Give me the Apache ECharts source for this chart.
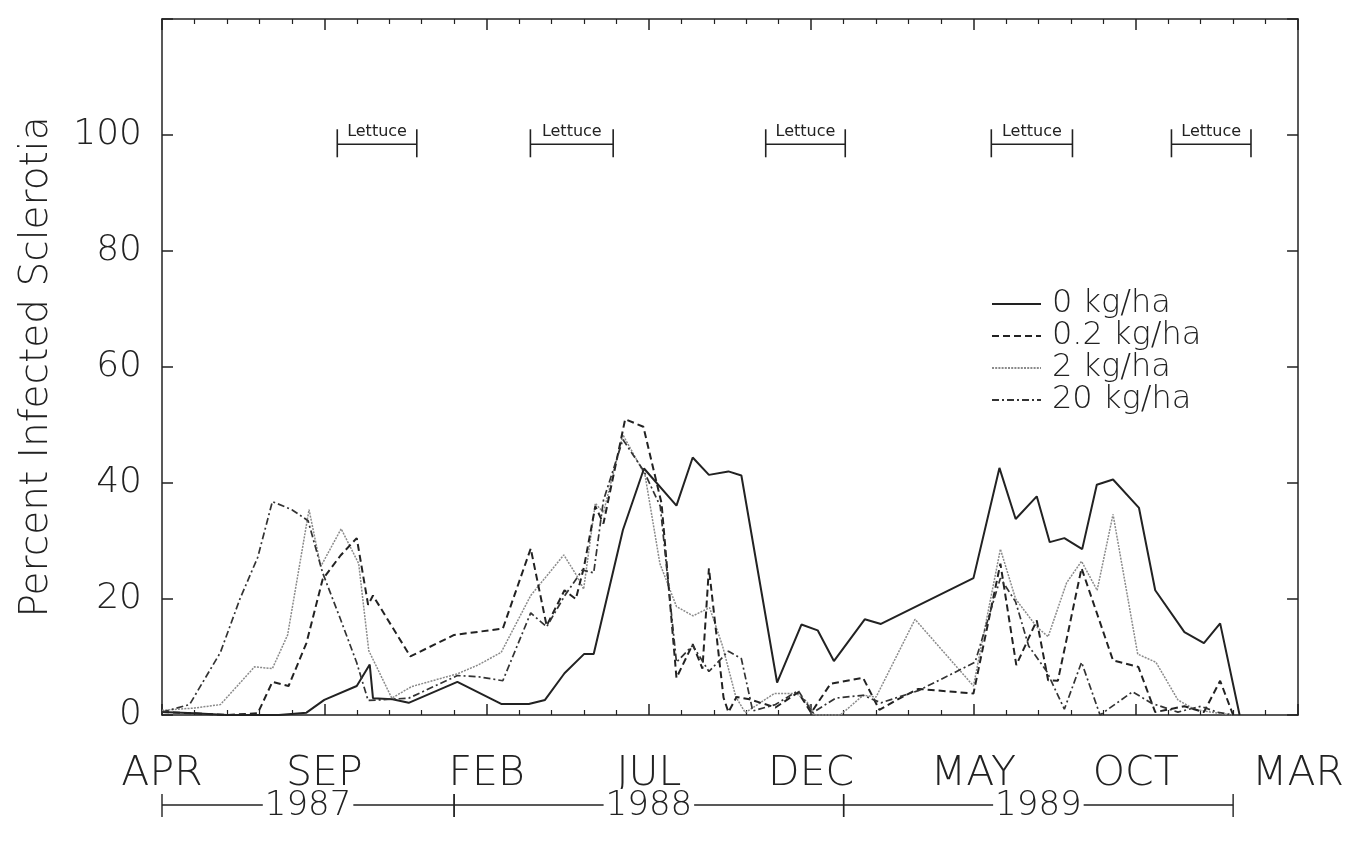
<!DOCTYPE html>
<html>
<head>
<meta charset="utf-8">
<script src="https://cdn.jsdelivr.net/npm/echarts@6/dist/echarts.min.js"></script>
<style>html,body{margin:0;padding:0;background:#fff;}#c{width:1347px;height:843px;}</style>
</head>
<body>
<div id="c"></div>
<script>
// x = months since April 1987
const monthLabels = ['APR','SEP','FEB','JUL','DEC','MAY','OCT','MAR'];
const yTickLabels = ['0','20','40','60','80','100',''];
const seriesNames = ['0 kg/ha','0.2 kg/ha','2 kg/ha','20 kg/ha'];

const s0kg = [[0,0.5],[1,0.3],[2,0],[3.6,0],[4.45,0.4],[5,2.6],[6,5],[6.4,8.7],[6.5,2.9],[7.1,2.7],[7.6,2.1],[9.1,5.7],[10.45,1.9],[11.3,1.9],[11.8,2.6],[12.4,7.2],[13,10.5],[13.3,10.5],[14.2,31.9],[14.85,42.5],[15.85,36.1],[16.35,44.4],[16.85,41.4],[17.45,42],[17.85,41.3],[18.95,5.6],[19.7,15.6],[20.2,14.6],[20.7,9.3],[21.65,16.5],[22.15,15.7],[25,23.6],[25.8,42.6],[26.3,33.8],[26.95,37.7],[27.35,29.8],[27.8,30.5],[28.35,28.6],[28.8,39.7],[29.3,40.6],[30.1,35.7],[30.6,21.5],[31.5,14.3],[32.1,12.4],[32.6,15.8],[33.2,0]];

const s02kg = [[0,0.5],[1,0.3],[2,0],[2.95,0.3],[3.4,5.7],[3.9,5],[4.45,12.4],[4.95,23.4],[5.5,27.5],[6.0,30.5],[6.35,19],[6.5,20.6],[7.65,10.1],[9.0,13.8],[10.5,14.9],[11.36,28.7],[11.85,15.4],[12.4,21.5],[12.75,20],[13.0,25.5],[13.35,36],[13.6,33],[14.27,51],[14.83,49.7],[15.39,36.5],[15.85,6.4],[16.35,12.2],[16.65,8],[16.85,25.3],[17.3,3],[17.45,0.5],[17.7,3.1],[18.1,2.7],[18.9,1.3],[19.6,3.9],[20.0,0.4],[20.6,5.4],[21.6,6.4],[22.1,0.9],[22.8,3.1],[23.3,4.5],[25.0,3.7],[25.83,26.1],[26.32,8.6],[26.95,16.3],[27.3,6],[27.6,5.9],[28.33,25.3],[29.3,9.4],[30.08,8.3],[30.6,0.5],[31.5,1.5],[32.1,0.5],[32.6,5.9],[33.0,0]];

const s2kg = [[0,0.8],[1,1.2],[1.8,1.8],[2.85,8.3],[3.4,8],[3.87,13.8],[4.53,35.4],[4.89,25.6],[5.52,32.1],[6.06,26.1],[6.37,11.1],[7.08,2.9],[7.69,4.9],[9.1,7.1],[9.73,8.6],[10.45,10.8],[11.36,20.6],[12.38,27.6],[12.79,23.9],[12.99,21.7],[13.35,36.5],[13.6,34.9],[14.2,48.3],[14.88,41.4],[15.34,26.1],[15.85,18.7],[16.36,17.1],[16.87,18.5],[17.27,11.9],[17.68,3.1],[17.97,0.4],[18.86,3.7],[19.55,3.7],[19.87,2.3],[20.1,0],[20.9,0],[21.6,3.4],[22.0,3.1],[23.2,16.5],[25.0,5],[25.83,28.6],[26.3,20],[26.95,15.2],[27.3,13.5],[27.87,22.8],[28.33,26.5],[28.81,21.5],[29.3,34.6],[30.06,10.5],[30.62,9.1],[31.3,2.6],[31.8,1],[32.3,0.5],[33,0]];

const s20kg = [[0,0.5],[0.85,1.8],[1.8,10.8],[2.4,20],[2.95,27.2],[3.4,36.8],[4.0,35.4],[4.5,33.5],[4.95,24.5],[5.5,16.5],[6.0,9],[6.35,2.5],[7.6,2.9],[9.1,6.8],[9.75,6.6],[10.5,5.9],[11.36,17.6],[11.85,15.2],[12.4,20.5],[12.95,25],[13.3,24.5],[13.6,37],[14.2,47.5],[14.85,42],[15.35,36],[15.85,9.1],[16.35,12],[16.85,7.5],[17.45,11],[17.85,9.7],[18.2,0.7],[18.9,1.8],[19.6,4.2],[20.05,0.4],[20.75,2.9],[21.6,3.4],[22.15,2.1],[23.3,4.2],[25.05,9.1],[25.83,23.6],[26.3,19.5],[26.7,11.9],[27.26,7.5],[27.8,1],[28.33,9.1],[28.9,0],[29.9,4],[30.5,2],[31.3,0.5],[32.0,1.5],[32.5,0.5],[33,0]];

const lettuceStart = [5.4, 11.35, 18.6, 25.55, 31.1];
const lettuceEnd   = [7.85, 13.9, 21.05, 28.05, 33.55];
const lettuceLevel = 98.4;
const lettuceLabel = 'Lettuce';

const yearStart = [0, 9, 21];
const yearEnd   = [9, 21, 33];
const yearLabels = ['1987','1988','1989'];

const FONT = '"DejaVu Sans", sans-serif';
const INK = '#222';

const chart = echarts.init(document.getElementById('c'), null, {renderer:'canvas'});

function xAxisCfg(pos, showLabel){
  return {
    type:'value', position:pos, min:0, max:35, interval:5,
    axisLine:{show:true, onZero:false, lineStyle:{color:INK, width:1.5}},
    axisTick:{show:true, inside:true, length:11, lineStyle:{color:INK, width:1.5}},
    minorTick:{show:true, splitNumber:5, length:5, lineStyle:{color:INK, width:1.2}},
    splitLine:{show:false},
    axisLabel:{show:showLabel, margin:39, fontSize:41, fontFamily:FONT, fontWeight:200, color:INK,
      formatter:(v)=>monthLabels[Math.round(v/5)]}
  };
}
function yAxisCfg(pos, showLabel){
  return {
    type:'value', position:pos, min:0, max:120, interval:20,
    axisLine:{show:true, onZero:false, lineStyle:{color:INK, width:1.5}},
    axisTick:{show:true, inside:true, length:11, lineStyle:{color:INK, width:1.5}},
    splitLine:{show:false},
    axisLabel:{show:showLabel, margin:20, fontSize:36, fontFamily:FONT, fontWeight:200, color:INK,
      formatter:(v)=>yTickLabels[Math.round(v/20)]},
    name: showLabel ? 'Percent Infected Sclerotia' : '',
    nameLocation:'middle', nameGap:106, nameRotate:90,
    nameTextStyle:{fontSize:39, fontFamily:FONT, fontWeight:200, color:INK}
  };
}

const lineStyles = [
  {color:INK, width:2, type:'solid'},
  {color:INK, width:2, type:[7,4]},
  {color:'#8a8a8a', width:1.5, type:[2,1.2]},
  {color:'#333', width:1.7, type:[7,3,2,3]}
];
const dataSets = [s0kg, s02kg, s2kg, s20kg];

const lineSeries = dataSets.map((d,i)=>({
  name: seriesNames[i], type:'line', data:d, xAxisIndex:0, yAxisIndex:0,
  showSymbol:false, symbol:'none', lineStyle:lineStyles[i], itemStyle:{color:lineStyles[i].color},
  z: 3 + (i===2?0:1)
}));

const lettuceSeries = {
  type:'custom', xAxisIndex:0, yAxisIndex:0, clip:false, silent:true,
  data: lettuceStart.map((s,i)=>[s, lettuceEnd[i], lettuceLevel]),
  renderItem:(params, api)=>{
    const a = api.coord([api.value(0), api.value(2)]);
    const b = api.coord([api.value(1), api.value(2)]);
    const st = {stroke:INK, lineWidth:1.6};
    return {type:'group', children:[
      {type:'line', shape:{x1:a[0], y1:a[1], x2:b[0], y2:b[1]}, style:st},
      {type:'line', shape:{x1:a[0], y1:a[1]-15, x2:a[0], y2:a[1]+13}, style:st},
      {type:'line', shape:{x1:b[0], y1:b[1]-15, x2:b[0], y2:b[1]+13}, style:st},
      {type:'text', x:(a[0]+b[0])/2, y:a[1]-4, style:{text:lettuceLabel, fill:INK,
        font:'16px "DejaVu Sans", sans-serif', align:'center', verticalAlign:'bottom'}}
    ]};
  }
};

const yearSeries = {
  type:'custom', xAxisIndex:0, yAxisIndex:0, clip:false, silent:true,
  data: yearStart.map((s,i)=>[s, yearEnd[i], 0]),
  renderItem:(params, api)=>{
    const a = api.coord([api.value(0), api.value(2)]);
    const b = api.coord([api.value(1), api.value(2)]);
    const y = a[1] + 90;
    const st = {stroke:INK, lineWidth:1.4};
    return {type:'group', children:[
      {type:'line', shape:{x1:a[0], y1:y, x2:b[0], y2:y}, style:st},
      {type:'line', shape:{x1:a[0], y1:y-11, x2:a[0], y2:y+12}, style:st},
      {type:'line', shape:{x1:b[0], y1:y-11, x2:b[0], y2:y+12}, style:st},
      {type:'text', x:(a[0]+b[0])/2, y:y+1, style:{text:yearLabels[params.dataIndex], fill:INK,
        font:'200 34px "DejaVu Sans", sans-serif', align:'center', verticalAlign:'middle',
        backgroundColor:'#fff', padding:[0,2]}}
    ]};
  }
};

chart.setOption({
  animation:false,
  backgroundColor:'#fff',
  grid:{left:162, right:42, top:19, bottom:128, containLabel:false},
  xAxis:[xAxisCfg('bottom', true), xAxisCfg('top', false)],
  yAxis:[yAxisCfg('left', true), yAxisCfg('right', false)],
  legend:{
    show:true, orient:'vertical', left:986, top:283, itemWidth:49, itemHeight:14, itemGap:0,
    itemStyle:{color:'rgba(0,0,0,0)', borderColor:'rgba(0,0,0,0)', borderWidth:0, opacity:0},
    textStyle:{fontSize:32, fontFamily:FONT, fontWeight:200, color:INK, lineHeight:31, padding:[0,0,0,6]},
    data: seriesNames
  },
  series:[...lineSeries, lettuceSeries, yearSeries]
});
</script>
</body>
</html>
